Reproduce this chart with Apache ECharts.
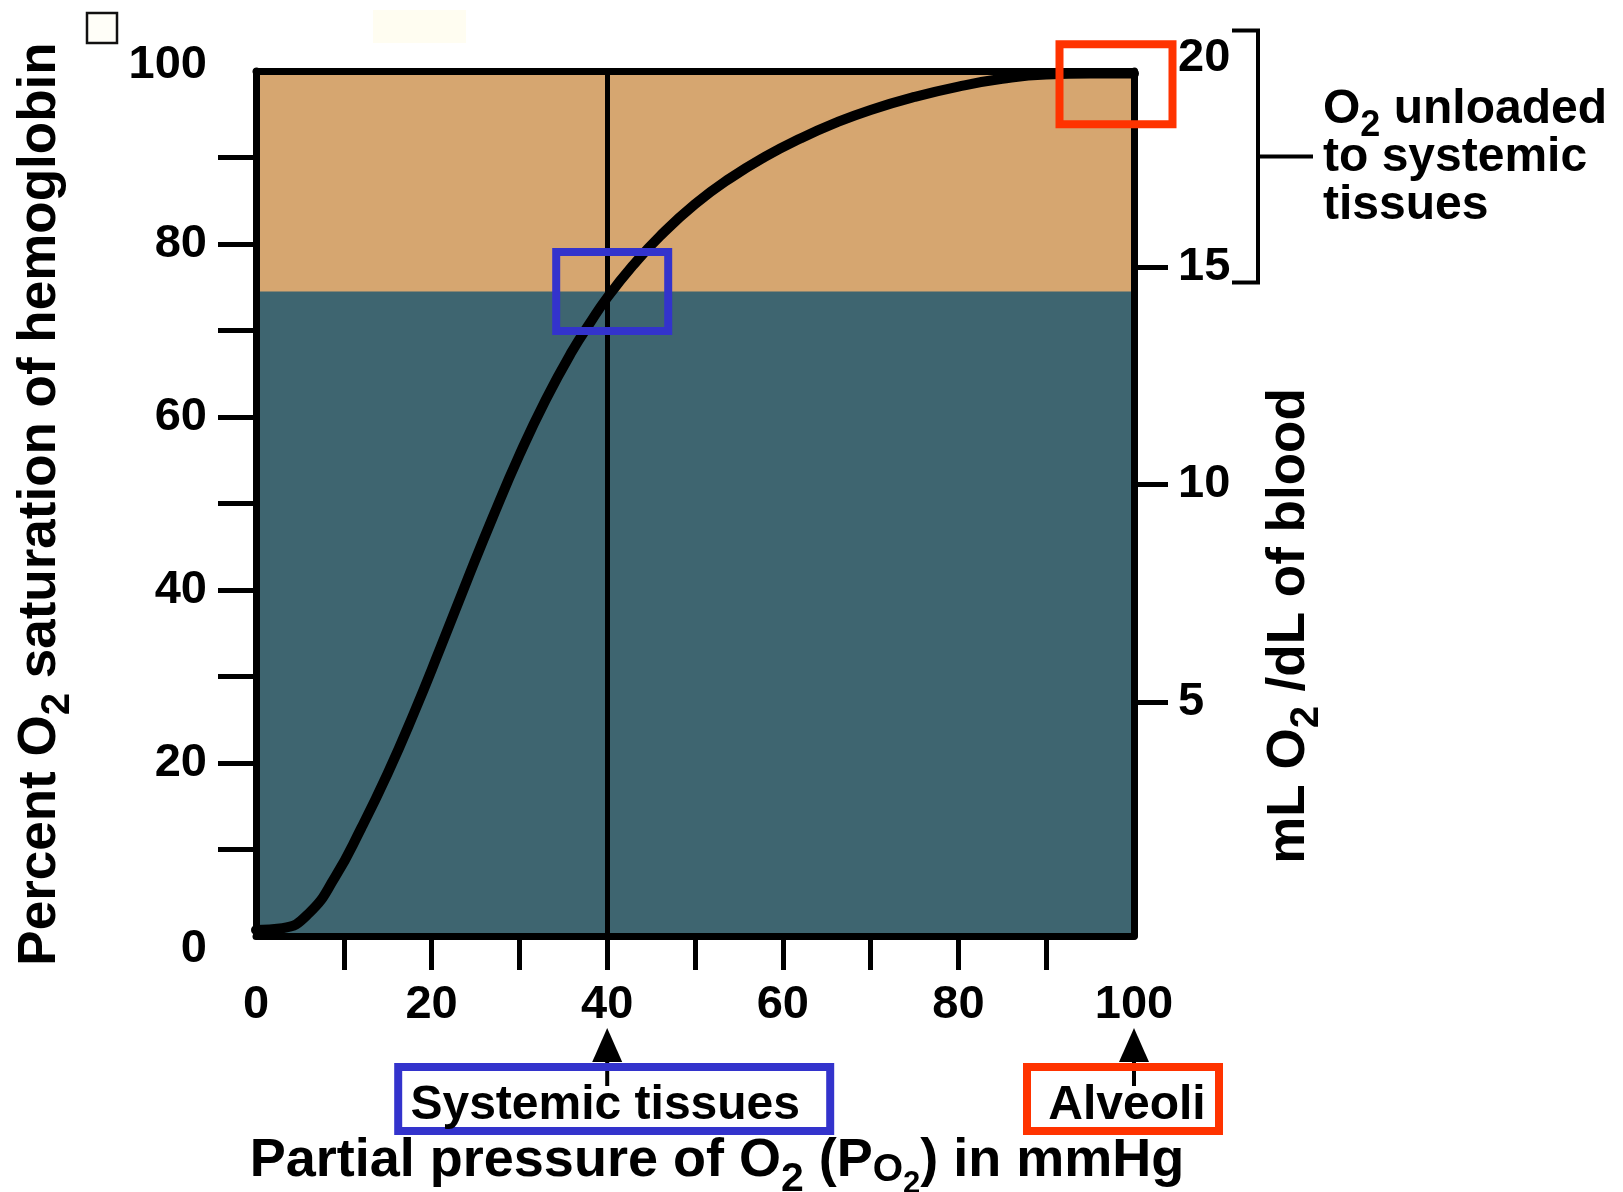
<!DOCTYPE html>
<html>
<head>
<meta charset="utf-8">
<script src="https://cdn.jsdelivr.net/npm/echarts@6/dist/echarts.min.js"></script>
<style>
  html, body { margin: 0; padding: 0; background: #fff; }
  #chart { width: 1623px; height: 1192px; }
</style>
</head>
<body>
<div id="chart"></div>
<script>
// Oxygen–hemoglobin dissociation curve
const pressure   = [0, 3, 6, 9, 12, 15, 18, 21, 24, 27, 30, 33, 36, 38, 40, 43, 46, 50, 54, 58, 62, 66, 70, 75, 80, 85, 90, 95, 100];
const saturation = [0.7, 0.9, 2.6, 6.8, 12.5, 18.8, 25.8, 33.3, 41, 48.5, 55.6, 62, 67.6, 70.8, 73.8, 77.6, 80.9, 84.6, 87.6, 90.1, 92.2, 94, 95.5, 97, 98.2, 99.1, 99.6, 99.7, 99.7];

const pressureTicks  = [10, 20, 30, 40, 50, 60, 70, 80, 90];
const pressureLabels = [0, 20, 40, 60, 80, 100];
const saturationTicks  = [10, 20, 30, 40, 50, 60, 70, 80, 90];
const saturationLabels = [0, 20, 40, 60, 80, 100];
const contentTicks  = [5, 10, 15];
const contentLabels = [5, 10, 15, 20];

const venousSaturation = 74.5;        // level separating the two shaded bands
const tissuePressure = 40;             // systemic tissues
const alveolarPressure = 100;          // alveoli
const unloadedRange = [14.65, 20.45];  // mL O2/dL span of the bracket

const FONT = "'Liberation Sans', Arial, Helvetica, sans-serif";
const ORANGE = '#D6A670';
const TEAL = '#3E6570';
const BLUE = '#3333CC';
const RED = '#FF3300';

const tickText = { fontFamily: FONT, fontWeight: 'bold', fontSize: 47, color: '#000' };
const tickFont = { fontFamily: FONT, fontWeight: 'bold', fontSize: 47, color: '#000' };
const borderLine = { color: '#000', width: 7 };

const chart = echarts.init(document.getElementById('chart'), null, { renderer: 'canvas' });

chart.setOption({
  animation: false,
  backgroundColor: '#fff',
  grid: [
    { left: 256, top: 71, width: 878, height: 865, show: true, backgroundColor: ORANGE, borderWidth: 0, outerBoundsMode: 'none' },
    { left: 256, top: 50, width: 878, height: 869, show: false, outerBoundsMode: 'none' }
  ],
  xAxis: [
    {
      gridIndex: 0, type: 'value', min: 0, max: 100, interval: 10, position: 'bottom', z: 5,
      axisLine: { show: true, onZero: false, lineStyle: borderLine },
      axisTick: { show: true, inside: false, length: 34, customValues: pressureTicks, lineStyle: { color: '#000', width: 5 } },
      axisLabel: Object.assign({ show: true, margin: 46, customValues: pressureLabels }, tickText),
      splitLine: { show: false }
    },
    {
      gridIndex: 0, type: 'value', min: 0, max: 100, position: 'top', z: 5,
      axisLine: { show: true, onZero: false, lineStyle: borderLine },
      axisTick: { show: false }, axisLabel: { show: false }, splitLine: { show: false }
    },
    { gridIndex: 1, type: 'value', min: 0, max: 100, show: false }
  ],
  yAxis: [
    {
      gridIndex: 0, type: 'value', min: 0, max: 100, interval: 10, position: 'left', z: 5,
      axisLine: { show: true, onZero: false, lineStyle: borderLine },
      axisTick: { show: true, inside: false, length: 38, customValues: saturationTicks, lineStyle: { color: '#000', width: 5 } },
      axisLabel: Object.assign({
        show: true, margin: 49, customValues: saturationLabels,
        formatter: v => v === 100 ? '{hi|100}' : v === 0 ? '{lo|0}' : String(v),
        rich: {
          hi: Object.assign({ padding: [0, 0, 12, 0] }, tickFont),
          lo: Object.assign({ padding: [26, 0, 0, 0] }, tickFont)
        }
      }, tickText),
      splitLine: { show: false }
    },
    {
      gridIndex: 0, type: 'value', min: 0, max: 100, position: 'right', z: 5,
      axisLine: { show: true, onZero: false, lineStyle: borderLine },
      axisTick: { show: false }, axisLabel: { show: false }, splitLine: { show: false }
    },
    {
      gridIndex: 1, type: 'value', min: 0, max: 20, interval: 5, position: 'right', z: 5,
      axisLine: { show: false, onZero: false },
      axisTick: { show: true, inside: false, length: 34, customValues: contentTicks, lineStyle: { color: '#000', width: 5 } },
      axisLabel: Object.assign({
        show: true, margin: 44, customValues: contentLabels,
        formatter: v => v === 20 ? '{top|20}' : String(v),
        rich: { top: Object.assign({ padding: [17, 0, 0, 0] }, tickFont) }
      }, tickText),
      splitLine: { show: false }
    }
  ],
  series: [
    {
      name: 'lower band', type: 'line', xAxisIndex: 0, yAxisIndex: 0, z: 1, silent: true,
      data: [[0, venousSaturation], [100, venousSaturation]],
      symbol: 'none', lineStyle: { width: 0 },
      areaStyle: { color: TEAL, opacity: 1 }
    },
    {
      name: 'saturation', type: 'line', xAxisIndex: 0, yAxisIndex: 0, z: 3, silent: true,
      data: pressure.map((p, i) => [p, saturation[i]]),
      smooth: 0.5, symbol: 'none',
      lineStyle: { color: '#000', width: 10, cap: 'round', join: 'round' },
      markLine: {
        silent: true, symbol: 'none', label: { show: false },
        lineStyle: { color: '#000', width: 5, type: 'solid' },
        data: [{ xAxis: tissuePressure }]
      }
    }
  ]
});

// Annotations positioned from the axes
const px = v => chart.convertToPixel({ xAxisIndex: 0 }, v);
const py = v => chart.convertToPixel({ yAxisIndex: 0 }, v);
const pyMl = v => chart.convertToPixel({ yAxisIndex: 2 }, v);

function box(cx, cy, w, h, color) {
  return { type: 'rect', z: 100, shape: { x: cx - w / 2, y: cy - h / 2, width: w, height: h },
           style: { fill: 'none', stroke: color, lineWidth: 8 } };
}
function arrow(x) {
  return [
    { type: 'line', z: 90, shape: { x1: x, y1: 1056, x2: x, y2: 1086 }, style: { stroke: '#000', lineWidth: 4 } },
    { type: 'polygon', z: 90, shape: { points: [[x, 1028], [x - 15, 1062], [x + 15, 1062]] }, style: { fill: '#000' } }
  ];
}
function label(x, y, text, size) {
  return { type: 'text', z: 100, x: x, y: y,
           style: { text: text, fontFamily: FONT, fontWeight: 'bold', fontSize: size, fill: '#000', align: 'center', verticalAlign: 'middle' } };
}
// rich styles: m = main text, s = subscript, so/ss = small O and its subscript
function richStyle(F) {
  const base = { fontFamily: FONT, fontWeight: 'bold', fill: '#000' };
  return {
    m:  Object.assign({ fontSize: F, lineHeight: F }, base),
    s:  Object.assign({ fontSize: Math.round(F * 0.75), lineHeight: 1, verticalAlign: 'top', padding: [Math.round(F * 0.46), 0, 0, 0] }, base),
    so: Object.assign({ fontSize: Math.round(F * 0.72), lineHeight: 1, verticalAlign: 'top', padding: [Math.round(F * 0.32), 0, 0, 0] }, base),
    ss: Object.assign({ fontSize: Math.round(F * 0.58), lineHeight: 1, verticalAlign: 'top', padding: [Math.round(F * 0.65), 0, 0, 0] }, base)
  };
}

const xT = px(tissuePressure);
const xA = px(alveolarPressure);
const yTop = pyMl(unloadedRange[1]);
const yBot = pyMl(unloadedRange[0]);
const yMid = (yTop + yBot) / 2;

const graphics = [
  // small empty marker box and faint patch at the top
  { type: 'rect', z: 100, shape: { x: 87, y: 13, width: 30, height: 30 }, style: { fill: '#FFFEF8', stroke: '#111', lineWidth: 2.5 } },
  { type: 'rect', z: 1, shape: { x: 373, y: 10, width: 93, height: 33 }, style: { fill: '#FFFDF1' } },

  // highlight boxes on the curve
  box(xT + 5, py(venousSaturation), 112, 79, BLUE),
  box(xA - 18, py(99.5) + 9, 113, 80, RED),

  // arrows and labels under the axis
  ...arrow(xT), ...arrow(xA),
  box(xT + 7, 1099, 432, 64, BLUE),
  box(xA - 11, 1099, 192, 64, RED),
  label(xT - 2, 1106, 'Systemic tissues', 48),
  label(xA - 7, 1106, 'Alveoli', 48),

  // bracket for the unloaded amount
  { type: 'polyline', z: 100, shape: { points: [[1232, yTop], [1258, yTop], [1258, yBot], [1232, yBot]] },
    style: { stroke: '#000', lineWidth: 4, fill: 'none' } },
  { type: 'line', z: 100, shape: { x1: 1258, y1: yMid, x2: 1313, y2: yMid }, style: { stroke: '#000', lineWidth: 4 } },
  { type: 'text', z: 100, x: 1323, y: 86,
    style: { text: '{m|O}{s|2}{m| unloaded}\n{m|to systemic}\n{m|tissues}', rich: richStyle(48), align: 'left', verticalAlign: 'top' } },

  // axis titles
  { type: 'text', z: 100, x: 40, y: 504, rotation: Math.PI / 2,
    style: { text: '{m|Percent O}{s|2}{m| saturation of hemoglobin}', rich: richStyle(53), align: 'center', verticalAlign: 'middle' } },
  { type: 'text', z: 100, x: 1289, y: 626, rotation: Math.PI / 2,
    style: { text: '{m|mL O}{s|2}{m| /dL of blood}', rich: richStyle(53), align: 'center', verticalAlign: 'middle' } },
  { type: 'text', z: 100, x: 717, y: 1134,
    style: { text: '{m|Partial pressure of O}{s|2}{m| (P}{so|O}{ss|2}{m|) in mmHg}', rich: richStyle(54), align: 'center', verticalAlign: 'top' } }
];

chart.setOption({ graphic: graphics });
</script>
</body>
</html>
